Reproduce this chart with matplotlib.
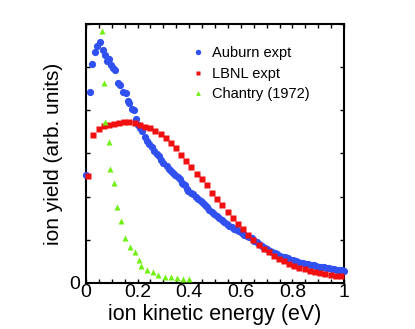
import matplotlib
matplotlib.use("Agg")
import matplotlib.pyplot as plt
from matplotlib.ticker import MultipleLocator, FixedLocator, FixedFormatter

plt.rcParams['font.family'] = ['Liberation Sans', 'DejaVu Sans']

auburn_x = [0.000, 0.016, 0.025, 0.035, 0.044, 0.054, 0.065, 0.074, 0.080, 0.090,
            0.097, 0.106, 0.112, 0.125, 0.132, 0.145, 0.154, 0.162, 0.167, 0.177,
            0.186, 0.193, 0.200, 0.209, 0.218, 0.229, 0.235, 0.244, 0.255, 0.265,
            0.274, 0.283, 0.291, 0.300, 0.313, 0.322, 0.330, 0.338, 0.346, 0.355,
            0.364, 0.371, 0.378, 0.384, 0.390, 0.397, 0.406, 0.416, 0.425, 0.435,
            0.445, 0.455, 0.462, 0.468, 0.477, 0.487, 0.497, 0.507, 0.516, 0.526,
            0.535, 0.545, 0.555, 0.565, 0.575, 0.584, 0.593, 0.603, 0.613, 0.623,
            0.632, 0.642, 0.652, 0.662, 0.672, 0.682, 0.692, 0.702, 0.712, 0.722,
            0.732, 0.742, 0.752, 0.762, 0.772, 0.782, 0.792, 0.802, 0.812, 0.822,
            0.832, 0.842, 0.852, 0.862, 0.872, 0.882, 0.892, 0.902, 0.912, 0.922,
            0.932, 0.942, 0.952, 0.962, 0.972, 0.982, 0.992, 1.000]
auburn_y = [2.49, 4.42, 5.07, 5.36, 5.50, 5.59, 5.40, 5.28, 5.15, 5.19,
            5.05, 4.99, 4.94, 4.64, 4.58, 4.43, 4.40, 4.22, 4.16, 4.04,
            4.01, 3.79, 3.67, 3.60, 3.52, 3.39, 3.29, 3.23, 3.16, 3.05,
            2.99, 2.94, 2.86, 2.78, 2.70, 2.64, 2.60, 2.55, 2.50, 2.46,
            2.40, 2.32, 2.30, 2.27, 2.18, 2.12, 2.09, 2.05, 2.00, 1.95,
            1.91, 1.86, 1.80, 1.75, 1.69, 1.64, 1.59, 1.55, 1.51, 1.47,
            1.42, 1.37, 1.33, 1.30, 1.26, 1.23, 1.20, 1.16, 1.12, 1.09,
            1.06, 1.03, 0.98, 0.94, 0.90, 0.86, 0.82, 0.79, 0.75, 0.72,
            0.69, 0.66, 0.63, 0.61, 0.60, 0.57, 0.54, 0.53, 0.51, 0.49,
            0.47, 0.46, 0.45, 0.43, 0.42, 0.41, 0.40, 0.38, 0.37, 0.36,
            0.35, 0.34, 0.33, 0.32, 0.31, 0.30, 0.29, 0.28]

lbnl_x = [0.009, 0.028, 0.049, 0.069, 0.089, 0.109, 0.129, 0.148, 0.168, 0.189,
          0.209, 0.229, 0.249, 0.269, 0.289, 0.310, 0.329, 0.349, 0.369, 0.389,
          0.409, 0.429, 0.448, 0.468, 0.489, 0.509, 0.528, 0.549, 0.569, 0.588,
          0.610, 0.629, 0.648, 0.669, 0.689, 0.708, 0.729, 0.748, 0.767, 0.788,
          0.807, 0.827, 0.847, 0.868, 0.888, 0.907, 0.928, 0.948, 0.968, 0.987]
lbnl_y = [2.47, 3.42, 3.56, 3.64, 3.65, 3.69, 3.70, 3.72, 3.73, 3.71,
          3.65, 3.62, 3.60, 3.53, 3.46, 3.36, 3.25, 3.12, 2.96, 2.82,
          2.68, 2.53, 2.41, 2.27, 2.09, 1.95, 1.81, 1.64, 1.50, 1.37,
          1.25, 1.11, 1.00, 0.88, 0.79, 0.71, 0.63, 0.56, 0.50, 0.44,
          0.40, 0.35, 0.32, 0.28, 0.25, 0.22, 0.20, 0.19, 0.17, 0.16]

chantry_x = [0.061, 0.070, 0.074, 0.089, 0.093, 0.109, 0.120, 0.136, 0.152, 0.172,
             0.189, 0.204, 0.214, 0.235, 0.260, 0.280, 0.306, 0.328, 0.351, 0.377, 0.399]
chantry_y = [5.84, 4.64, 3.74, 3.27, 2.64, 2.32, 1.77, 1.44, 1.04, 0.83,
             0.71, 0.53, 0.40, 0.29, 0.25, 0.18, 0.14, 0.13, 0.11, 0.09, 0.08]

labels = ["Auburn expt", "LBNL expt", "Chantry (1972)"]
xtick_vals = [0, 0.2, 0.4, 0.6, 0.8, 1.0]
xtick_labels = ['0', '0.2', '0.4', '0.6', '0.8', '1']
ytick_vals = [0, 1, 2, 3, 4, 5, 6]
ytick_labels = ['0', '', '', '', '', '', '']

fig = plt.figure(figsize=(4.15, 3.29), dpi=100)
ax = fig.add_axes([0.207, 0.140, 0.622, 0.787])

ax.plot(auburn_x, auburn_y, 'o', color='#3050f0', ms=5.2, mec='none', label=labels[0], clip_on=False, zorder=3)
ax.plot(lbnl_x, lbnl_y, 's', color='#f01010', ms=3.8, mec='none', label=labels[1], clip_on=False, zorder=4)
ax.plot(chantry_x, chantry_y, '^', color='#70f010', ms=4.6, mec='none', label=labels[2], clip_on=False, zorder=5)

ax.set_xlim(0, 1)
ax.set_ylim(0, 6)
ax.xaxis.set_major_locator(FixedLocator(xtick_vals))
ax.xaxis.set_major_formatter(FixedFormatter(xtick_labels))
ax.xaxis.set_minor_locator(MultipleLocator(0.05))
ax.yaxis.set_major_locator(FixedLocator(ytick_vals))
ax.yaxis.set_major_formatter(FixedFormatter(ytick_labels))
ax.tick_params(which='both', direction='in', top=True, right=True, length=3, width=1,
               labelsize=14)
ax.tick_params(axis='x', pad=1)
ax.tick_params(axis='y', pad=4)
for s in ax.spines.values():
    s.set_linewidth(1.5)

ax.set_xlabel("ion kinetic energy (eV)", fontsize=15.5, labelpad=2)
ax.set_ylabel("ion yield (arb. units)", fontsize=15, labelpad=5)

leg = ax.legend(loc='upper left', bbox_to_anchor=(0.36, 0.965), frameon=False,
                fontsize=10.5, handlelength=0.8, handletextpad=0.6, labelspacing=0.45,
                markerscale=0.75)

fig.savefig("out.png", dpi=100)
